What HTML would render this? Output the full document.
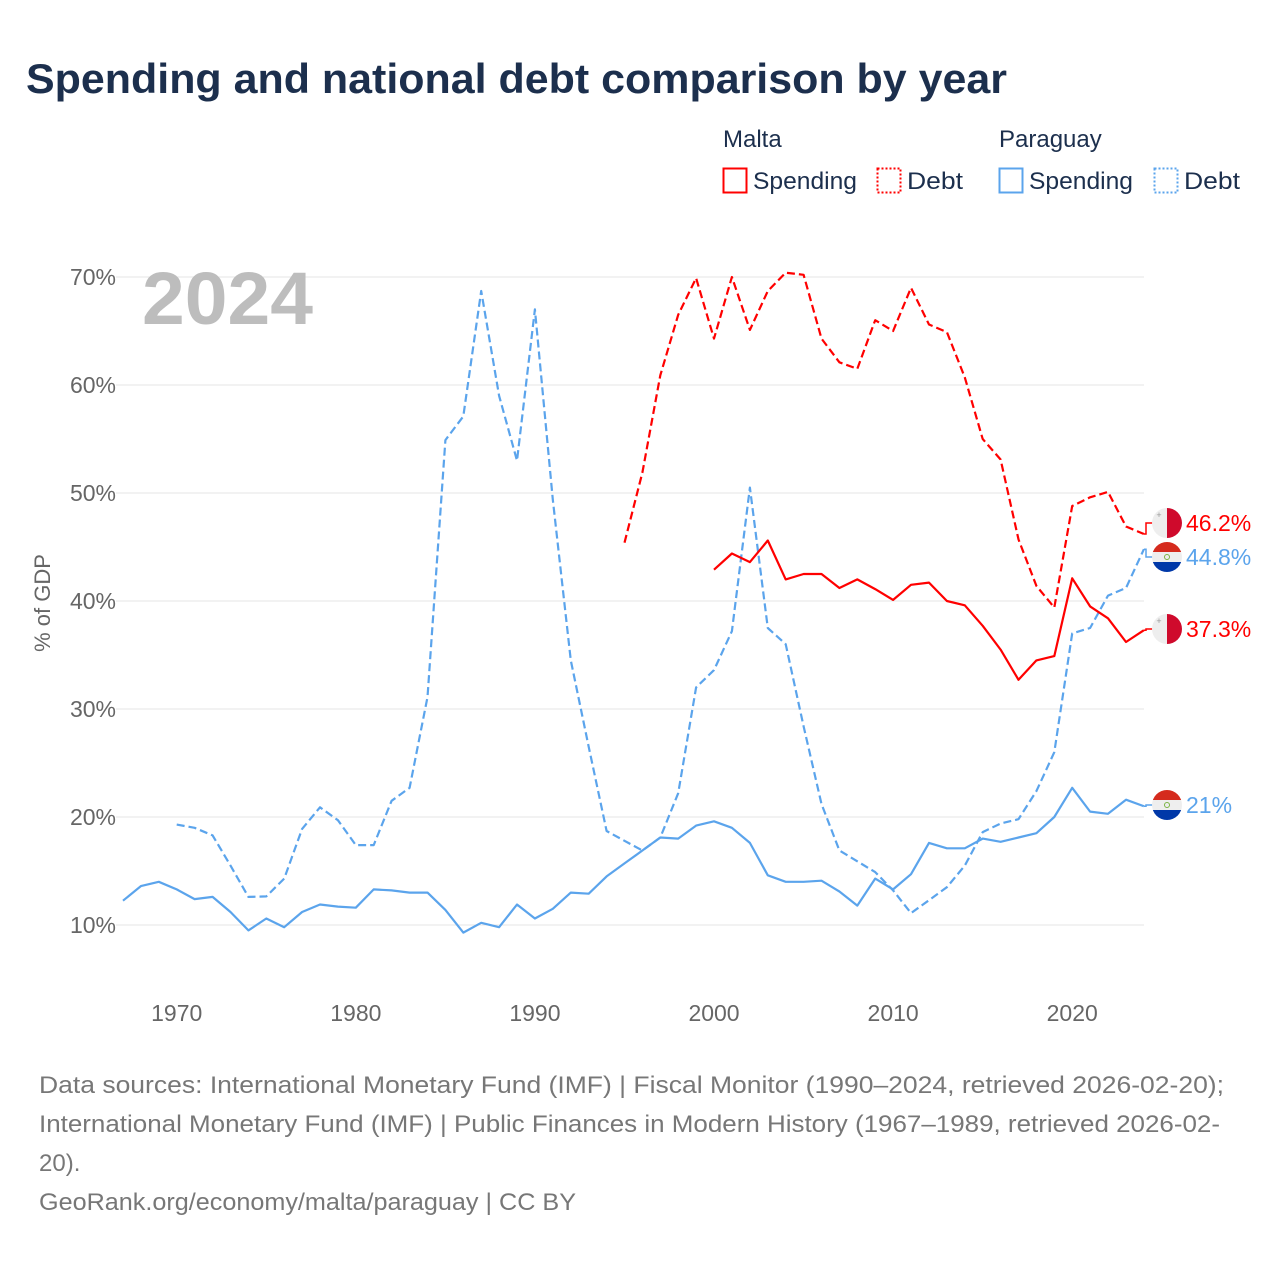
<!DOCTYPE html>
<html><head><meta charset="utf-8">
<style>
body{margin:0;background:#fff;font-family:"Liberation Sans",sans-serif;}
#wrap{position:relative;width:1280px;height:1280px;overflow:hidden;}
</style></head>
<body>
<div id="wrap">
<svg id="chart" width="1280" height="1280" xmlns="http://www.w3.org/2000/svg">
<text x="26" y="93" font-size="42" font-weight="bold" fill="#1c2f4d" textLength="981" lengthAdjust="spacingAndGlyphs">Spending and national debt comparison by year</text>
<g font-size="24" fill="#1c2f4d">
<text x="723" y="147">Malta</text>
<text x="999" y="147">Paraguay</text>
<g><rect x="723.5" y="168.5" width="23" height="24" fill="none" stroke="#f00" stroke-width="2"/><text x="753" y="189" textLength="104" lengthAdjust="spacingAndGlyphs">Spending</text></g>
<g><rect x="877.5" y="168.5" width="23" height="24" fill="none" stroke="#f00" stroke-width="2" stroke-dasharray="2,2"/><text x="907" y="189" textLength="56" lengthAdjust="spacingAndGlyphs">Debt</text></g>
<g><rect x="999.5" y="168.5" width="23" height="24" fill="none" stroke="#5ba4ec" stroke-width="2"/><text x="1029" y="189" textLength="104" lengthAdjust="spacingAndGlyphs">Spending</text></g>
<g><rect x="1154.5" y="168.5" width="23" height="24" fill="none" stroke="#5ba4ec" stroke-width="2" stroke-dasharray="2,2"/><text x="1184" y="189" textLength="56" lengthAdjust="spacingAndGlyphs">Debt</text></g>
</g>
<g id="grid"></g>
<text x="142" y="324" font-size="74" font-weight="bold" fill="#bdbdbd" textLength="171" lengthAdjust="spacingAndGlyphs">2024</text>
<text transform="translate(50,603) rotate(-90)" text-anchor="middle" font-size="22" fill="#666">% of GDP</text>
<g id="series"></g>
<g id="ends"></g>
<g font-size="24" fill="#777">
<text x="39" y="1093" textLength="1185" lengthAdjust="spacingAndGlyphs">Data sources: International Monetary Fund (IMF) | Fiscal Monitor (1990–2024, retrieved 2026-02-20);</text>
<text x="39" y="1132" textLength="1181" lengthAdjust="spacingAndGlyphs">International Monetary Fund (IMF) | Public Finances in Modern History (1967–1989, retrieved 2026-02-</text>
<text x="39" y="1171">20).</text>
<text x="39" y="1210" textLength="537" lengthAdjust="spacingAndGlyphs">GeoRank.org/economy/malta/paraguay | CC BY</text>
</g>
</svg>
</div>
<script>
const yTicks=[10,20,30,40,50,60,70];
const xTicks=[1970,1980,1990,2000,2010,2020];
const pySpendStart=1967;
const pySpend=[12.25,13.6,14.0,13.3,12.4,12.6,11.2,9.5,10.6,9.8,11.2,11.9,11.7,11.6,13.3,13.2,13.0,13.0,11.4,9.3,10.2,9.8,11.9,10.6,11.5,13.0,12.9,14.5,15.7,16.9,18.1,18.0,19.2,19.6,19.0,17.6,14.6,14.0,14.0,14.1,13.1,11.8,14.3,13.3,14.7,17.6,17.1,17.1,18.0,17.7,18.1,18.5,20.0,22.7,20.5,20.3,21.6,21.0];
const pyDebtStart=1970;
const pyDebt=[19.3,19.0,18.3,15.5,12.6,12.65,14.3,18.9,20.9,19.7,17.4,17.4,21.5,22.7,31.1,54.9,57.1,68.7,59.0,53.0,67.0,49.4,34.5,26.5,18.7,17.8,16.9,18.1,22.2,32.0,33.6,37.2,50.5,37.5,36.0,28.4,21.2,16.9,15.9,14.9,13.2,11.1,12.3,13.5,15.5,18.6,19.4,19.8,22.4,26.0,37.0,37.5,40.5,41.2,44.8];
const mtDebtStart=1995;
const mtDebt=[45.4,51.9,60.9,66.5,69.9,64.3,70.0,65.1,68.7,70.4,70.2,64.3,62.1,61.5,66.0,65.0,69.0,65.6,64.9,60.7,55.0,53.1,45.7,41.4,39.4,48.8,49.6,50.1,46.9,46.2];
const mtSpendStart=2000;
const mtSpend=[42.9,44.4,43.6,45.6,42.0,42.5,42.5,41.2,42.0,41.1,40.1,41.5,41.7,40.0,39.6,37.7,35.5,32.7,34.5,34.9,42.1,39.5,38.4,36.2,37.3];
const endLabels=["46.2%","44.8%","37.3%","21%"];

const NS="http://www.w3.org/2000/svg";
const X=yr=>123+(yr-1967)*17.91;
const Y=v=>925-(v-10)*10.8;
function mk(tag,attrs,parent){const e=document.createElementNS(NS,tag);for(const k in attrs)e.setAttribute(k,attrs[k]);parent.appendChild(e);return e;}
const grid=document.getElementById('grid');
yTicks.forEach(t=>{
  const l=mk('line',{x1:116,x2:1144,y1:Y(t),y2:Y(t),stroke:'#e6e6e6','stroke-width':1},grid);
  
  
  const tx=mk('text',{x:116,y:Y(t)+8,'text-anchor':'end','font-size':23,fill:'#666'},grid);
  tx.textContent=t+'%';
  
  
});
xTicks.forEach(t=>{
  const tx=mk('text',{x:X(t),y:1021,'text-anchor':'middle','font-size':23,fill:'#666'},grid);
  tx.textContent=t;
  
  
});
const series=document.getElementById('series');
function line(start,vals,color,dash,name){
  const d=vals.map((v,i)=>(i?'L':'M')+X(start+i).toFixed(1)+','+Y(v).toFixed(1)).join(' ');
  const p=mk('path',{d:d,fill:'none',stroke:color,'stroke-width':2.2,'stroke-linejoin':'round'},series);
  if(dash)p.setAttribute('stroke-dasharray','8,4');
  
  
}
line(pyDebtStart,pyDebt,'#5ba4ec',true,'paraguay-debt-line');
line(pySpendStart,pySpend,'#5ba4ec',false,'paraguay-spending-line');
line(mtDebtStart,mtDebt,'#f00',true,'malta-debt-line');
line(mtSpendStart,mtSpend,'#f00',false,'malta-spending-line');

const ends=document.getElementById('ends');
const lastY=[Y(mtDebt[mtDebt.length-1]),Y(pyDebt[pyDebt.length-1]),Y(mtSpend[mtSpend.length-1]),Y(pySpend[pySpend.length-1])];
const labY=[523,557,629,805];
const cols=['#f00','#5ba4ec','#f00','#5ba4ec'];
const flags=['mt','py','mt','py'];
const names=['malta-debt','paraguay-debt','malta-spending','paraguay-spending'];
for(let i=0;i<4;i++){
  const ly=labY[i];
  mk('path',{d:`M1144,${lastY[i].toFixed(1)} L1146,${lastY[i].toFixed(1)} L1146,${ly} L1153,${ly}`,fill:'none',stroke:cols[i],'stroke-width':1.5},ends);
  const g=mk('g',{},ends);
  
  
  const cx=1167,r=15;
  const cid='c'+i;
  const cp=mk('clipPath',{id:cid},g);mk('circle',{cx:cx,cy:ly,r:r},cp);
  const fg=mk('g',{'clip-path':`url(#${cid})`},g);
  if(flags[i]==='mt'){
    mk('rect',{x:cx-r,y:ly-r,width:r,height:2*r,fill:'#eee'},fg);
    mk('rect',{x:cx,y:ly-r,width:r,height:2*r,fill:'#cf0a2c'},fg);
    mk('text',{x:cx-8,y:ly-5,'font-size':9,fill:'#999','text-anchor':'middle'},fg).textContent='+';
  }else{
    mk('rect',{x:cx-r,y:ly-r,width:2*r,height:10,fill:'#d52b1e'},fg);
    mk('rect',{x:cx-r,y:ly-5,width:2*r,height:10,fill:'#eee'},fg);
    mk('rect',{x:cx-r,y:ly+5,width:2*r,height:10,fill:'#0038a8'},fg);
    mk('circle',{cx:cx,cy:ly,r:2.5,fill:'none',stroke:'#7bb342','stroke-width':1},fg);
  }
  const t=mk('text',{x:1186,y:ly+8,'font-size':23,fill:cols[i]},ends);
  t.textContent=endLabels[i];
  
  
}
</script>
</body></html>
